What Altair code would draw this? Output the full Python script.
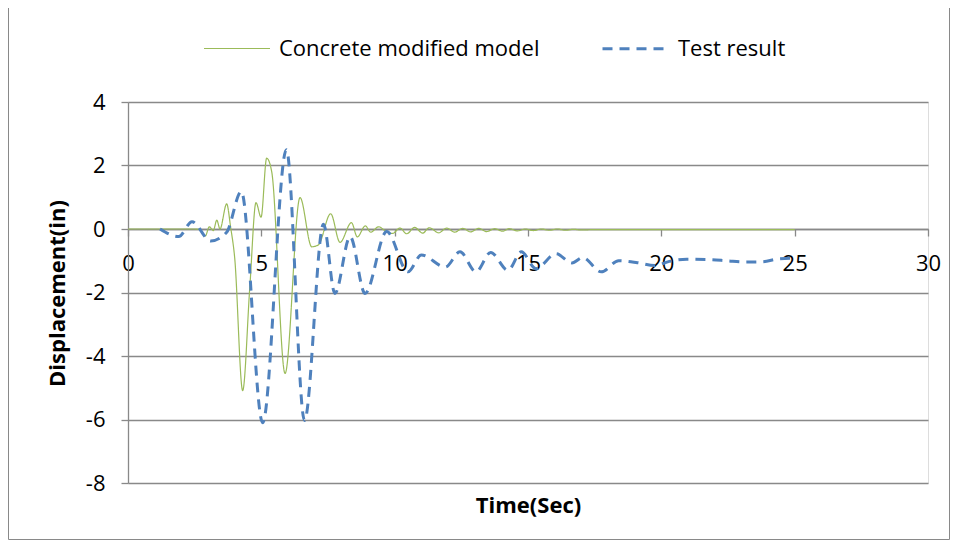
import altair as alt
import pandas as pd

# ---- data ----
series_names = ["Concrete modified model", "Test result"]
series_colors = ["#9BBB59", "#4F81BD"]

green_time = [0, 2.5, 2.7, 2.9, 3.05, 3.2, 3.33, 3.45, 3.7, 3.85, 4.0, 4.3, 4.57, 4.8, 4.99,
              5.2, 5.39, 5.89, 6.45, 6.89, 7.14, 7.6, 7.95, 8.38, 8.6, 8.9, 9.1, 9.4, 9.65,
              9.92, 10.2, 10.45, 10.75, 11.05, 11.3, 11.65, 11.95, 12.25, 12.55, 12.85, 13.15,
              13.45, 13.75, 14.05, 14.3, 14.6, 14.9, 15.2, 15.5, 15.8, 16.1, 16.4, 16.7, 17.0,
              17.5, 18.0, 19.0, 20.0, 22.0, 24.0, 25.0]
green_disp = [0, 0, -0.02, -0.22, 0.07, -0.05, 0.28, 0.0, 0.79, 0.05, -0.9, -5.09, -1.8, 0.83, 0.37,
              2.23, 1.8, -4.55, 0.99, -0.56, -0.5, 0.48, -0.42, 0.2, -0.25, 0.1, -0.1, 0.07, -0.06,
              -0.14, 0.03, -0.15, 0.05, -0.13, 0.04, -0.12, 0.03, -0.1, 0.02, -0.09, 0.02,
              -0.08, 0.01, -0.07, 0.01, -0.06, 0.0, -0.05, 0.0, -0.04, 0.0, -0.04, -0.01, -0.03,
              -0.02, -0.02, -0.02, -0.02, -0.02, -0.02, -0.02]

test_time = [1.2, 1.9, 2.4, 3.1, 3.7, 4.25, 5.05, 5.94, 6.62, 7.33, 7.76, 8.33, 8.89, 9.7,
             10.5, 11.0, 11.9, 12.45, 13.05, 13.6, 14.25, 14.75, 15.3, 16.05, 16.65, 17.05,
             17.75, 18.4, 19.1, 19.75, 20.3, 20.95, 21.7, 22.45, 23.1, 23.8, 24.4, 25.0]
test_disp = [0.0, -0.24, 0.23, -0.38, -0.1, 1.18, -6.1, 2.5, -6.03, 0.15, -2.03, -0.24, -2.03, -0.08,
             -1.35, -0.82, -1.2, -0.72, -1.35, -0.74, -1.3, -0.72, -1.25, -0.78, -1.07, -0.9,
             -1.35, -1.0, -1.06, -1.15, -1.02, -0.95, -0.96, -1.0, -1.04, -1.03, -0.94, -0.92]

x_ticks = [0, 5, 10, 15, 20, 25, 30]
y_ticks = [-8, -6, -4, -2, 0, 2, 4]

df = pd.concat([
    pd.DataFrame({"t": green_time, "d": green_disp, "series": series_names[0]}),
    pd.DataFrame({"t": test_time, "d": test_disp, "series": series_names[1]}),
], ignore_index=True)

W, H = 800, 381
FONT = "Open Sans"
GRID = "#898989"
FS = 22
zero_y = H * 8 / 12  # distance of y=0 from the bottom

legend_cfg = dict(
    title=None, orient="none", legendX=75, legendY=-88, direction="horizontal",
    symbolType="stroke", symbolSize=4356, labelFontSize=FS, labelFont=FONT,
    labelOffset=8, columnPadding=56, padding=0, labelColor="black", labelLimit=0,
)

lines = alt.Chart(df).mark_line(interpolate="monotone").encode(
    x=alt.X("t:Q", scale=alt.Scale(domain=[0, 30], nice=False),
            axis=alt.Axis(values=x_ticks, offset=-zero_y, grid=False,
                          domainColor=GRID, domainWidth=1.3, tickColor=GRID, tickWidth=1.3,
                          tickSize=7, labelFontSize=FS, labelFont=FONT, labelColor="black",
                          labelPadding=17, labelFlush=False, labelOverlap=False,
                          labelExpr="'' + datum.value",
                          title="Time(Sec)", titleFont=FONT, titleFontSize=FS,
                          titleFontWeight="bold", titleColor="black",
                          titleX=W / 2, titleY=276, titleBaseline="middle")),
    y=alt.Y("d:Q", scale=alt.Scale(domain=[-8, 4], nice=False),
            axis=alt.Axis(values=y_ticks, grid=True, gridColor=GRID, gridWidth=1.3,
                          domainColor=GRID, domainWidth=1.3, tickColor=GRID, tickWidth=1.3,
                          tickSize=7, labelFontSize=FS, labelFont=FONT, labelColor="black",
                          labelPadding=16, labelOverlap=False,
                          labelExpr="'' + datum.value",
                          title="Displacement(in)", titleFont=FONT, titleFontSize=FS,
                          titleFontWeight="bold", titleColor="black",
                          titleX=-71, titleY=191, titleBaseline="middle")),
    color=alt.Color("series:N", scale=alt.Scale(domain=series_names, range=series_colors),
                    legend=alt.Legend(**legend_cfg)),
    strokeDash=alt.StrokeDash("series:N",
                              scale=alt.Scale(domain=series_names, range=[[1, 0], [10, 7]]),
                              legend=alt.Legend(**legend_cfg)),
    strokeWidth=alt.StrokeWidth("series:N",
                                scale=alt.Scale(domain=series_names, range=[1.2, 3]),
                                legend=alt.Legend(**legend_cfg)),
)

frame_src = alt.Chart(pd.DataFrame({"k": [0]}))
left_edge = frame_src.mark_rule(color=GRID, strokeWidth=1).encode(
    x=alt.value(-119.5), y=alt.value(-94), y2=alt.value(437.5))
right_edge = frame_src.mark_rule(color=GRID, strokeWidth=1).encode(
    x=alt.value(821.5), y=alt.value(-94), y2=alt.value(437.5))
bottom_edge = frame_src.mark_rule(color=GRID, strokeWidth=1).encode(
    x=alt.value(-119.5), x2=alt.value(821.5), y=alt.value(437.5))

chart = alt.layer(lines, left_edge, right_edge, bottom_edge).properties(
    width=W, height=H,
    autosize=alt.AutoSizeParams(type="none"),
    padding={"left": 120, "top": 94, "right": 22, "bottom": 57},
).configure_view(stroke=None).configure(background="white")

chart.save("out.html", embed_options={"renderer": "svg", "actions": False})
